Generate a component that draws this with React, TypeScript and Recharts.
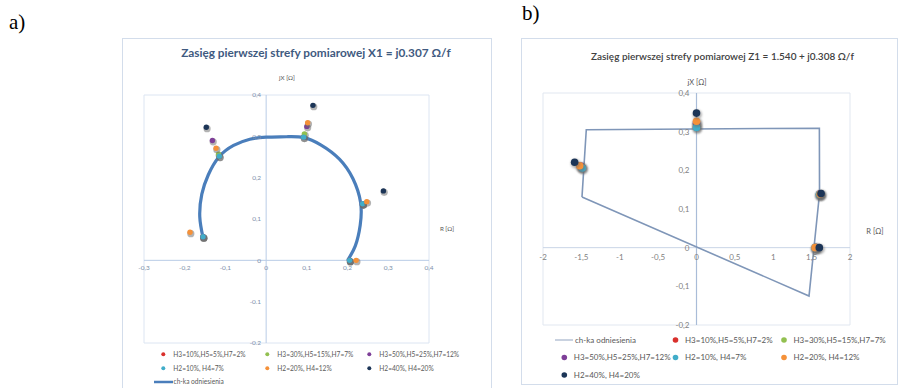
import React from 'react'
import {
  ScatterChart,
  Scatter,
  XAxis,
  YAxis,
  CartesianGrid,
  ReferenceLine,
  ReferenceDot,
} from 'recharts'

type Pt = { x: number; y: number }

const FONT = 'Lato, "Open Sans", sans-serif'

// series shared by both panels
const seriesNames = [
  'H3=10%,H5=5%,H7=2%',
  'H3=30%,H5=15%,H7=7%',
  'H3=50%,H5=25%,H7=12%',
  'H2=10%, H4=7%',
  'H2=20%, H4=12%',
  'H2=40%, H4=20%',
]
const seriesColors = ['#D9302C', '#92C050', '#7E3F98', '#41ADC9', '#F59139', '#1C3557']
const refName = 'ch-ka odniesienia'

// a) X1 = j0.307
const aXTicks = [-0.3, -0.2, -0.1, 0, 0.1, 0.2, 0.3, 0.4]
const aYTicks = [-0.2, -0.1, 0, 0.1, 0.2, 0.3, 0.4]
const aReference: Pt[] = [
  { x: -0.155, y: 0.055 },
  { x: -0.163, y: 0.105 },
  { x: -0.158, y: 0.16 },
  { x: -0.142, y: 0.207 },
  { x: -0.116, y: 0.25 },
  { x: -0.08, y: 0.278 },
  { x: -0.04, y: 0.293 },
  { x: 0, y: 0.298 },
  { x: 0.05, y: 0.299 },
  { x: 0.092, y: 0.297 },
  { x: 0.135, y: 0.279 },
  { x: 0.18, y: 0.245 },
  { x: 0.213, y: 0.198 },
  { x: 0.232, y: 0.14 },
  { x: 0.231, y: 0.085 },
  { x: 0.219, y: 0.035 },
  { x: 0.2, y: 0 },
]
const aH3low: Pt[] = [
  { x: -0.155, y: 0.057 },
  { x: -0.115, y: 0.252 },
  { x: 0.092, y: 0.298 },
  { x: 0.237, y: 0.137 },
  { x: 0.205, y: 0 },
]
const aH3mid: Pt[] = [
  { x: -0.155, y: 0.057 },
  { x: -0.117, y: 0.257 },
  { x: 0.094, y: 0.306 },
  { x: 0.237, y: 0.137 },
  { x: 0.205, y: 0 },
]
const aH3high: Pt[] = [
  { x: -0.155, y: 0.057 },
  { x: -0.132, y: 0.29 },
  { x: 0.1, y: 0.324 },
  { x: 0.237, y: 0.137 },
  { x: 0.205, y: 0 },
]
const aH2low: Pt[] = [
  { x: -0.155, y: 0.057 },
  { x: -0.115, y: 0.252 },
  { x: 0.092, y: 0.298 },
  { x: 0.237, y: 0.137 },
  { x: 0.205, y: 0 },
]
const aH2mid: Pt[] = [
  { x: -0.187, y: 0.068 },
  { x: -0.123, y: 0.271 },
  { x: 0.102, y: 0.333 },
  { x: 0.247, y: 0.142 },
  { x: 0.221, y: 0 },
]
const aH2high: Pt[] = [
  { x: -0.147, y: 0.322 },
  { x: 0.115, y: 0.375 },
  { x: 0.288, y: 0.168 },
]
const aSeries = [aH3low, aH3mid, aH3high, aH2low, aH2mid, aH2high]

// b) Z1 = 1.540 + j0.308
const bXTicks = [-2, -1.5, -1, -0.5, 0, 0.5, 1, 1.5, 2]
const bYTicks = [-0.2, -0.1, 0, 0.1, 0.2, 0.3, 0.4]
const bReference: Pt[] = [
  { x: -1.492, y: 0.131 },
  { x: -1.436, y: 0.305 },
  { x: 1.601, y: 0.309 },
  { x: 1.603, y: 0.14 },
  { x: 1.466, y: -0.125 },
  { x: -1.492, y: 0.131 },
]
const bH3low: Pt[] = [
  { x: 0, y: 0.312 },
  { x: -1.49, y: 0.207 },
  { x: 1.605, y: 0.138 },
  { x: 1.55, y: 0 },
]
const bH3mid: Pt[] = [
  { x: 0, y: 0.318 },
  { x: -1.5, y: 0.209 },
  { x: 1.607, y: 0.138 },
  { x: 1.555, y: 0 },
]
const bH3high: Pt[] = [
  { x: 0, y: 0.322 },
  { x: -1.51, y: 0.211 },
  { x: 1.61, y: 0.139 },
  { x: 1.56, y: 0 },
]
const bH2low: Pt[] = [
  { x: 0, y: 0.311 },
  { x: -1.488, y: 0.206 },
  { x: 1.6, y: 0.1375 },
  { x: 1.545, y: 0 },
]
const bH2mid: Pt[] = [
  { x: 0, y: 0.327 },
  { x: -1.522, y: 0.212 },
  { x: 1.61, y: 0.138 },
  { x: 1.545, y: 0 },
]
const bH2high: Pt[] = [
  { x: 0, y: 0.348 },
  { x: -1.588, y: 0.221 },
  { x: 1.623, y: 0.14 },
  { x: 1.6, y: 0 },
]
const bSeries = [bH3low, bH3mid, bH3high, bH2low, bH2mid, bH2high]

const fmtComma = (v: number) => String(Math.round(v * 10) / 10).replace('.', ',')
// panel a) prints its negative reactance ticks with a dot
const fmtA = (v: number) => (v < 0 ? String(v) : fmtComma(v))

// marker with the soft grey drop shadow Excel puts under points
const dotShape = (color: string, r: number, filterId: string) => (p: any) => (
  <g>
    <circle
      cx={p.cx + 0.8}
      cy={p.cy + 1.4}
      r={r + 0.9}
      fill="#6b6b6b"
      opacity={0.5}
      filter={`url(#${filterId})`}
    />
    <circle cx={p.cx} cy={p.cy} r={r} fill={color} />
  </g>
)
const noDot = () => <g />

const Frame: React.FC<{ left: number; top: number; width: number; height: number; children: React.ReactNode }> = ({
  left,
  top,
  width,
  height,
  children,
}) => (
  <div style={{ position: 'absolute', left, top, width, height }}>
    {children}
    <div
      style={{
        position: 'absolute',
        left: 0,
        top: 0,
        width: width - 2,
        height: height - 2,
        border: '1px solid #D3DDEB',
        pointerEvents: 'none',
      }}
    />
  </div>
)

const PanelA = () => {
  const w = 370
  const h = 352
  return (
    <ScatterChart width={w} height={h} margin={{ top: 57, right: 63, bottom: 47, left: 22 }}>
      <defs>
        <filter id="shadowA" x="-1" y="-1" width="3" height="3">
          <feGaussianBlur stdDeviation="0.7" />
        </filter>
      </defs>
      <CartesianGrid stroke="#DCE5F2" strokeWidth={1} />
      <XAxis
        type="number"
        dataKey="x"
        domain={[-0.3, 0.4]}
        ticks={aXTicks}
        axisLine={false}
        tickLine={false}
        tick={false}
        height={0}
        allowDataOverflow
      />
      <YAxis
        type="number"
        dataKey="y"
        domain={[-0.2, 0.4]}
        ticks={aYTicks}
        axisLine={false}
        tickLine={false}
        tick={false}
        width={0}
        allowDataOverflow
      />
      <ReferenceLine x={0} stroke="#B9CCE6" strokeWidth={1} />
      <ReferenceLine y={0} stroke="#B9CCE6" strokeWidth={1} />
      {aXTicks.map((t) => (
        <ReferenceDot
          key={`ax${t}`}
          x={t}
          y={0}
          r={0}
          stroke="none"
          fill="none"
          label={{ value: fmtComma(t), position: 'bottom', offset: 5, fontSize: 6.5, fill: '#7D8FAA', fontFamily: FONT }}
        />
      ))}
      {aYTicks.map((t) => (
        <ReferenceDot
          key={`ay${t}`}
          x={0}
          y={t}
          r={0}
          stroke="none"
          fill="none"
          label={{ value: fmtA(t), position: 'left', offset: 5, fontSize: 6.5, fill: '#7D8FAA', fontFamily: FONT }}
        />
      ))}
      <Scatter
        name={refName}
        data={aReference}
        line={{ stroke: '#4A7EBB', strokeWidth: 3.2 }}
        lineJointType="natural"
        shape={noDot}
        isAnimationActive={false}
      />
      {aSeries.map((d, i) => (
        <Scatter
          key={seriesNames[i]}
          name={seriesNames[i]}
          data={d}
          shape={dotShape(seriesColors[i], 2.7, 'shadowA')}
          isAnimationActive={false}
        />
      ))}

      <text x={194} y={19} textAnchor="middle" fontFamily={FONT} fontSize={11.8} fontWeight={700} fill="#3F5A80">
        Zasięg pierwszej strefy pomiarowej X1 = j0.307 Ω/f
      </text>
      <text x={165} y={42} textAnchor="middle" fontFamily={FONT} fontSize={6.2} fill="#595959">
        jX [Ω]
      </text>
      <text x={325} y={193} textAnchor="middle" fontFamily={FONT} fontSize={6.2} fill="#595959">
        R [Ω]
      </text>

      {seriesNames.map((n, i) => {
        const col = i % 3
        const row = Math.floor(i / 3)
        const mx = [41.3, 145.3, 247.3][col]
        const my = 316.3 + row * 14
        return (
          <g key={`la${i}`}>
            <circle cx={mx} cy={my} r={2} fill={seriesColors[i]} />
            <text x={mx + 10} y={my + 2.3} fontFamily={FONT} fontSize={6.6} fill="#595959">
              {n}
            </text>
          </g>
        )
      })}
      <line x1={32} y1={344} x2={51} y2={344} stroke="#4A7EBB" strokeWidth={2.5} />
      <text x={51.5} y={346.3} fontFamily={FONT} fontSize={6.6} fill="#595959">
        {refName}
      </text>
    </ScatterChart>
  )
}

const PanelB = () => {
  const w = 377
  const h = 347
  return (
    <ScatterChart width={w} height={h} margin={{ top: 55, right: 48, bottom: 60, left: 22 }}>
      <defs>
        <filter id="shadowB" x="-1" y="-1" width="3" height="3">
          <feGaussianBlur stdDeviation="0.8" />
        </filter>
      </defs>
      <CartesianGrid stroke="#E1E7F0" strokeWidth={1} />
      <XAxis
        type="number"
        dataKey="x"
        domain={[-2, 2]}
        ticks={bXTicks}
        axisLine={false}
        tickLine={false}
        tick={false}
        height={0}
        allowDataOverflow
      />
      <YAxis
        type="number"
        dataKey="y"
        domain={[-0.2, 0.4]}
        ticks={bYTicks}
        axisLine={false}
        tickLine={false}
        tick={false}
        width={0}
        allowDataOverflow
      />
      <ReferenceLine x={0} stroke="#A9BCD8" strokeWidth={1.2} />
      <ReferenceLine y={0} stroke="#C9D5E6" strokeWidth={1} />
      {bXTicks.map((t) => (
        <ReferenceDot
          key={`bx${t}`}
          x={t}
          y={0}
          r={0}
          stroke="none"
          fill="none"
          label={{ value: fmtComma(t), position: 'bottom', offset: 7, fontSize: 8, fill: '#7F7F7F', fontFamily: FONT }}
        />
      ))}
      {bYTicks.map((t) => (
        <ReferenceDot
          key={`by${t}`}
          x={0}
          y={t}
          r={0}
          stroke="none"
          fill="none"
          label={{ value: fmtComma(t), position: 'left', offset: 7, fontSize: 8, fill: '#7F7F7F', fontFamily: FONT }}
        />
      ))}
      <Scatter
        name={refName}
        data={bReference}
        line={{ stroke: '#7F96B8', strokeWidth: 1.6 }}
        lineJointType="linear"
        shape={noDot}
        isAnimationActive={false}
      />
      {bSeries.map((d, i) => (
        <Scatter
          key={seriesNames[i]}
          name={seriesNames[i]}
          data={d}
          shape={dotShape(seriesColors[i], 3.8, 'shadowB')}
          isAnimationActive={false}
        />
      ))}

      <text x={201.5} y={22} textAnchor="middle" fontFamily={FONT} fontSize={10} fontWeight={600} fill="#404040">
        Zasięg pierwszej strefy pomiarowej Z1 = 1.540 + j0.308 Ω/f
      </text>
      <text x={176} y={47} textAnchor="middle" fontFamily={FONT} fontSize={7.5} fill="#595959">
        jX [Ω]
      </text>
      <text x={354} y={196} textAnchor="middle" fontFamily={FONT} fontSize={7.5} fill="#595959">
        R [Ω]
      </text>

      {[refName, ...seriesNames].map((n, k) => {
        const col = k % 3
        const row = Math.floor(k / 3)
        const my = 302 + row * 17.5
        if (k === 0) {
          return (
            <g key="lb0">
              <line x1={34} y1={my} x2={52} y2={my} stroke="#A6B5CC" strokeWidth={1.2} />
              <text x={54} y={my + 2.8} fontFamily={FONT} fontSize={8} fill="#595959">
                {n}
              </text>
            </g>
          )
        }
        const mx = [43.3, 154.5, 263][col]
        return (
          <g key={`lb${k}`}>
            <circle cx={mx} cy={my} r={2.8} fill={seriesColors[k - 1]} />
            <text x={mx + 9.5} y={my + 2.8} fontFamily={FONT} fontSize={8} fill="#595959">
              {n}
            </text>
          </g>
        )
      })}
    </ScatterChart>
  )
}

export default function App() {
  return (
    <div
      style={{
        position: 'absolute',
        left: 0,
        top: 0,
        width: 907,
        height: 388,
        overflow: 'hidden',
        background: '#fff',
      }}
    >
      <div style={{ position: 'absolute', left: 9, top: 10, fontFamily: '"Liberation Serif", serif', fontSize: 21 }}>
        a)
      </div>
      <div style={{ position: 'absolute', left: 522, top: 1, fontFamily: '"Liberation Serif", serif', fontSize: 21 }}>
        b)
      </div>
      <Frame left={122} top={38} width={370} height={356}>
        <PanelA />
      </Frame>
      <Frame left={521} top={38} width={377} height={347}>
        <PanelB />
      </Frame>
    </div>
  )
}
